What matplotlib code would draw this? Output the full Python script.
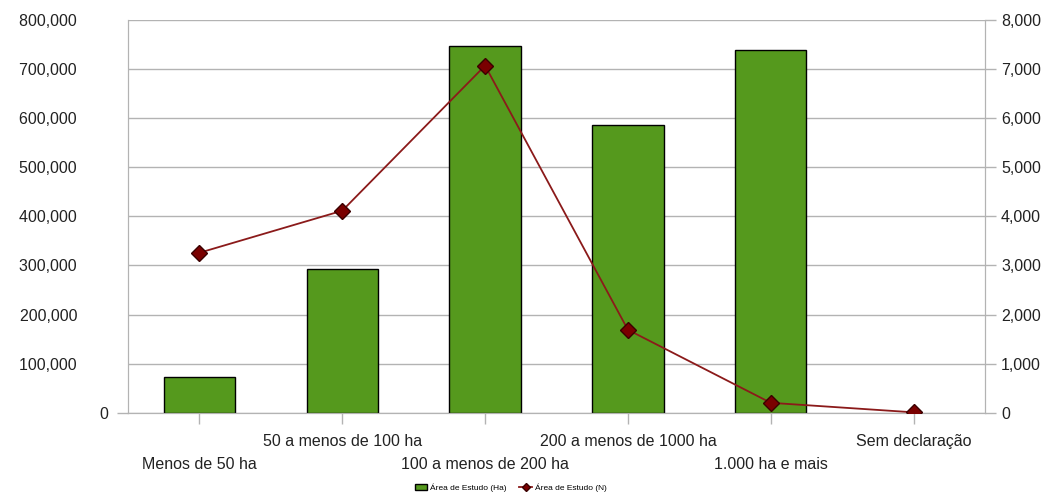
import matplotlib.pyplot as plt
import numpy as np

plt.rcParams['font.family'] = ['Liberation Sans', 'DejaVu Sans']

categorias = ['Menos de 50 ha', '50 a menos de 100 ha', '100 a menos de 200 ha',
              '200 a menos de 1000 ha', '1.000 ha e mais', 'Sem declaração']
area_ha = [73000, 293000, 747000, 586000, 739000, 0]
area_n = [3258, 4114, 7067, 1690, 204, 10]

fig = plt.figure(figsize=(10.49, 4.95), dpi=100)
ax = fig.add_axes([0.122, 0.166, 0.817, 0.794])
ax2 = ax.twinx()

x = np.arange(len(categorias))
b = ax.bar(x, area_ha, width=0.5, color='#55991d', edgecolor='black', linewidth=1,
           label='Área de Estudo (Ha)', zorder=3)
# barra de valor zero nao aparece
for r, v in zip(b.patches, area_ha):
    if v == 0:
        r.set_edgecolor('none')
l, = ax2.plot(x, area_n, color='#8b1a1a', lw=1.3, marker='D', markersize=8,
              markerfacecolor='#7a0000', markeredgecolor='#3a0000', label='Área de Estudo (N)', zorder=4)

ax.set_xlim(-0.5, 5.5)
ax.set_ylim(0, 800000)
ax2.set_ylim(0, 8000)
ax.set_yticks(np.arange(0, 800001, 100000))
ax2.set_yticks(np.arange(0, 8001, 1000))
ax.set_yticklabels(['0'] + [f'{v:,}' + ' ' * 7 for v in range(100000, 800001, 100000)])
ax2.set_yticklabels(['0'] + [f'{v:,}' for v in range(1000, 8001, 1000)])
ax.yaxis.grid(True, color='#b3b3b3', lw=1, zorder=0)
ax.set_axisbelow(True)

# rotulos alternados: pares embaixo (major), impares em cima (minor)
ax.set_xticks(x[::2])
ax.set_xticklabels(categorias[::2])
ax.set_xticks(x[1::2], minor=True)
ax.set_xticklabels(categorias[1::2], minor=True)

for a in (ax, ax2):
    a.tick_params(colors='#b3b3b3', labelcolor='#222222', labelsize=11.5, length=8, width=1)
    for s in a.spines.values():
        s.set_color('#b3b3b3')
    a.spines['top'].set_visible(False)
ax.tick_params(axis='y', pad=6)
ax.tick_params(axis='x', which='major', length=8, pad=23.5)
ax.tick_params(axis='x', which='minor', colors='#b3b3b3', labelcolor='#222222',
               labelsize=11.5, length=8, width=1, pad=7.5)
for t in ax.yaxis.get_major_ticks()[1:]:
    t.tick1line.set_visible(False)

fig.legend([b, l], ['Área de Estudo (Ha)', 'Área de Estudo (N)'], loc='center',
           bbox_to_anchor=(0.487, 0.015), ncol=2, fontsize=6, frameon=False,
           handlelength=1.5, columnspacing=1.5, handletextpad=0.4, markerscale=0.5)

fig.savefig('out.png', dpi=100)
